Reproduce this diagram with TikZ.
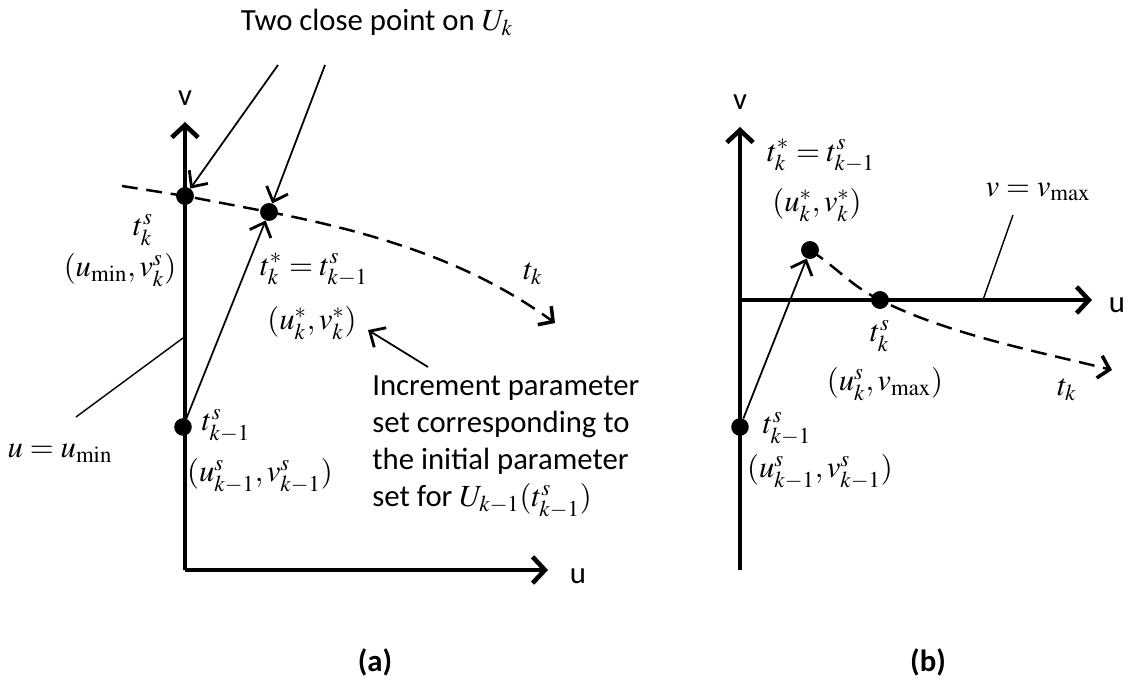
\documentclass[tikz,border=0pt]{standalone}
\usepackage{mathptmx}
\usepackage[no-math]{fontspec}
\setmainfont{Carlito}
\usetikzlibrary{arrows.meta}

\begin{document}
\begin{tikzpicture}[
    x=0.02cm, y=-0.02cm,
    axis/.style={line width=2.6pt, -{Straight Barb[length=7pt,width=15pt]}},
    pointer/.style={line width=1pt, -{Straight Barb[length=7pt,width=13pt,line width=1.6pt]}},
    lead/.style={line width=0.8pt},
    curve/.style={line width=1.4pt, dash pattern=on 9pt off 5pt,
                  -{Straight Barb[length=6pt,width=13pt,line width=2pt]}},
    dot/.style={circle, fill, inner sep=0pt, minimum size=10pt},
    lbl/.style={font=\fontsize{17.5}{21}\selectfont, inner sep=0pt},
    note/.style={font=\fontsize{17.5}{21}\selectfont, inner sep=0pt, align=left},
    figcap/.style={font=\fontsize{17.5}{21}\selectfont\bfseries, inner sep=0pt}
  ]
  \useasboundingbox (0,0) rectangle (1137,689);

  % ---------- (a) ----------
  \coordinate (oa) at (185,570);
  \coordinate (va) at (185,122);
  \coordinate (ua) at (548,570);
  \draw[axis] (oa) -- (va);
  \draw[axis] (oa) -- (ua);
  \node[lbl] (vlabA) at (185,98) {v};
  \node[lbl] (ulabA) at (578,576) {u};

  % points on the axis / curve
  \node[dot] (tksA)   at (185,196) {};
  \node[dot] (tstarA) at (269,212) {};
  \node[dot] (tkmA)   at (183,427) {};

  % dashed curve t_k
  \coordinate (cstartA) at (122,186);
  \coordinate (cendA)   at (555,323);
  \draw[curve] (cstartA) -- (tksA.center) -- (tstarA.center)
    .. controls (410,239) and (490,276) .. (cendA);
  \node[dot] at (tksA) {};
  \node[dot] at (tstarA) {};

  % increment step
  \draw[pointer] (tkmA) -- (tstarA);

  % title and its pointers
  \node[lbl] (title) at (377,22) {Two close point on $U_k$};
  \coordinate (p1) at (278,65);
  \coordinate (p2) at (325,65);
  \draw[pointer] (p1) -- (tksA);
  \draw[pointer] (p2) -- (tstarA);

  % labels
  \node[lbl] (tksLab)   at (143,230) {$t^{s}_{k}$};
  \node[lbl] (uvsLab)   at (120,270) {$(u_{\min},v^{s}_{k})$};
  \node[lbl] (tstarLab) at (314,270) {$t^{*}_{k}=t^{s}_{k-1}$};
  \node[lbl] (uvstar)   at (312,323) {$(u^{*}_{k},v^{*}_{k})$};
  \node[lbl] (tkmLab)   at (226,426) {$t^{s}_{k-1}$};
  \node[lbl] (uvkm)     at (260,476) {$(u^{s}_{k-1},v^{s}_{k-1})$};
  \node[lbl] (tkLab)    at (533,274) {$t_k$};
  \node[lbl] (uminLab)  at (60,453) {$u=u_{\min}$};

  % u = u_min leader
  \coordinate (uminTail) at (76,417);
  \coordinate (uminHit)  at (183,338);
  \draw[lead] (uminTail) -- (uminHit);

  % increment note
  \node[note, anchor=west] (incr) at (372,447)
    {Increment parameter\\set corresponding to\\the initial parameter\\set for $U_{k-1}(t^{s}_{k-1})$};
  \coordinate (incTail) at (428,367);
  \coordinate (incHead) at (368,330);
  \draw[pointer] (incTail) -- (incHead);

  % ---------- (b) ----------
  \coordinate (ob) at (740,570);
  \coordinate (vb) at (740,127);
  \coordinate (ub0) at (740,300);
  \coordinate (ub) at (1092,300);
  \draw[axis] (ob) -- (vb);
  \draw[axis] (ub0) -- (ub);
  \node[lbl] (vlabB) at (740,102) {v};
  \node[lbl] (ulabB) at (1117,305) {u};

  \node[dot] (tstarB) at (810,250) {};
  \node[dot] (tksB)   at (880,300) {};
  \node[dot] (tkmB)   at (740,427) {};

  \coordinate (cendB) at (1112,370);
  \draw[curve] (tstarB.center) .. controls (840,270) and (850,285) .. (tksB.center)
    .. controls (950,335) and (1040,352) .. (cendB);
  \node[dot] at (tstarB) {};
  \node[dot] at (tksB) {};

  \draw[pointer] (tkmB) -- (tstarB);

  % v = v_max leader
  \coordinate (vmaxTail) at (1013,215);
  \coordinate (vmaxHit)  at (983,300);
  \draw[lead] (vmaxTail) -- (vmaxHit);

  \node[lbl] (tstarLabB) at (821,156) {$t^{*}_{k}=t^{s}_{k-1}$};
  \node[lbl] (uvstarB)   at (817,205) {$(u^{*}_{k},v^{*}_{k})$};
  \node[lbl] (vmaxLab)   at (1038,192) {$v=v_{\max}$};
  \node[lbl] (tksLabB)   at (880,336) {$t^{s}_{k}$};
  \node[lbl] (uvmaxB)    at (885,384) {$(u^{s}_{k},v_{\max})$};
  \node[lbl] (tkLabB)    at (1067,390) {$t_k$};
  \node[lbl] (tkmLabB)   at (787,429) {$t^{s}_{k-1}$};
  \node[lbl] (uvkmB)     at (820,472) {$(u^{s}_{k-1},v^{s}_{k-1})$};

  % captions
  \node[figcap] (capA) at (375,662) {(a)};
  \node[figcap] (capB) at (928,662) {(b)};
\end{tikzpicture}
\end{document}
